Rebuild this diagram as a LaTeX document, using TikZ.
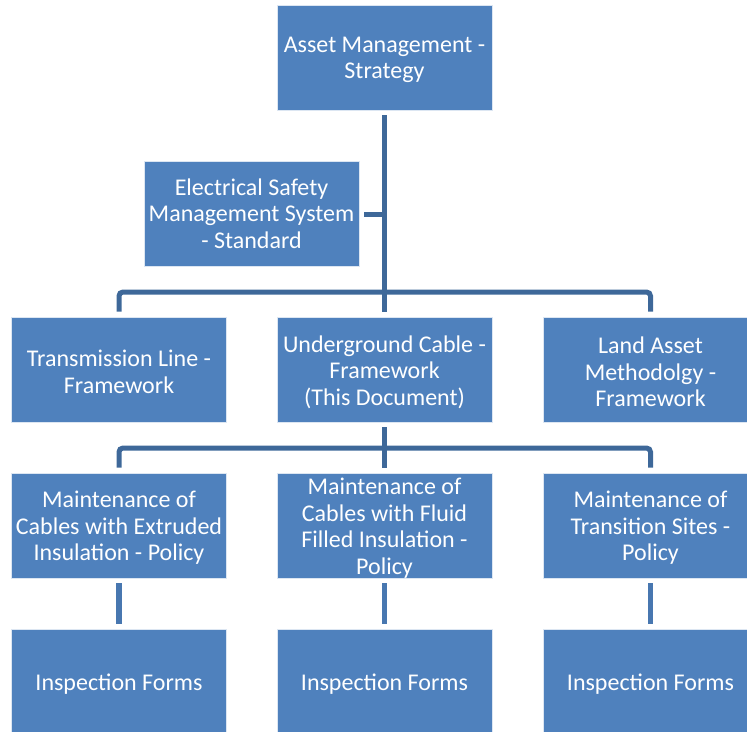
\documentclass[tikz,border=0pt]{standalone}
\usepackage{fontspec}
\setmainfont{Carlito}
\definecolor{boxblue}{HTML}{4F81BD}
\definecolor{linkblue}{HTML}{3E6899}
\definecolor{stemblue}{HTML}{4877B0}

\begin{document}
\begin{tikzpicture}[x=1pt,y=-1pt,
  panel/.style={rectangle, fill=boxblue, draw=white!80!boxblue, line width=0.6pt,
    minimum width=215pt, minimum height=105pt, inner sep=0pt},
  card/.style={panel, label={[cardtext]center:{#1}}},
  cardtext/.style={inner sep=0pt, yshift=-2.5pt, text=white, align=center,
    font=\fontsize{24}{26.5}\selectfont},
  link/.style={draw=linkblue, line width=5pt, rounded corners=4pt},
  stem/.style={draw=stemblue, line width=5.5pt}]
\useasboundingbox (0,0) rectangle (747,731);

% top level
\node[card={Asset Management -\\Strategy}] (strat) at (384.5,57.5) {};
\node[panel, label={[cardtext, yshift=3pt]center:{Electrical Safety\\Management System\\- Standard}}] (esms) at (251.5,214) {};

% frameworks
\node[card={Transmission Line -\\Framework}] (tl) at (119,369.5) {};
\node[card={Underground Cable -\\Framework\\(This Document)}] (uc) at (384.5,369.5) {};
\node[card={Land Asset\\Methodolgy -\\Framework}] (la) at (650.5,369.5) {};

% policies
\node[card={Maintenance of\\Cables with Extruded\\Insulation - Policy}] (pe) at (119,525.5) {};
\node[card={Maintenance of\\Cables with Fluid\\Filled Insulation -\\Policy}] (pf) at (384.5,525.5) {};
\node[card={Maintenance of\\Transition Sites -\\Policy}] (pt) at (650.5,525.5) {};

% forms
\node[card={Inspection Forms}] (fe) at (119,681.5) {};
\node[card={Inspection Forms}] (ff) at (384.5,681.5) {};
\node[card={Inspection Forms}] (ft) at (650.5,681.5) {};

% bus bars
\coordinate (busA) at (384.5,292);
\coordinate (busB) at (384.5,448);

% strategy to frameworks
\draw[link] ([yshift=-5pt]strat.south) -- ([yshift=5pt]uc.north);
\draw[link] ([xshift=5pt]esms.east) -- (esms.east -| strat.south);
\draw[link] ([yshift=5pt]tl.north) |- (busA) -| ([yshift=5pt]la.north);

% framework to policies
\draw[link] ([yshift=-5pt]uc.south) -- ([yshift=5pt]pf.north);
\draw[link] ([yshift=5pt]pe.north) |- (busB) -| ([yshift=5pt]pt.north);

% policies to forms
\draw[stem] ([yshift=-5pt]pe.south) -- ([yshift=5pt]fe.north);
\draw[stem] ([yshift=-5pt]pf.south) -- ([yshift=5pt]ff.north);
\draw[stem] ([yshift=-5pt]pt.south) -- ([yshift=5pt]ft.north);
\end{tikzpicture}
\end{document}
